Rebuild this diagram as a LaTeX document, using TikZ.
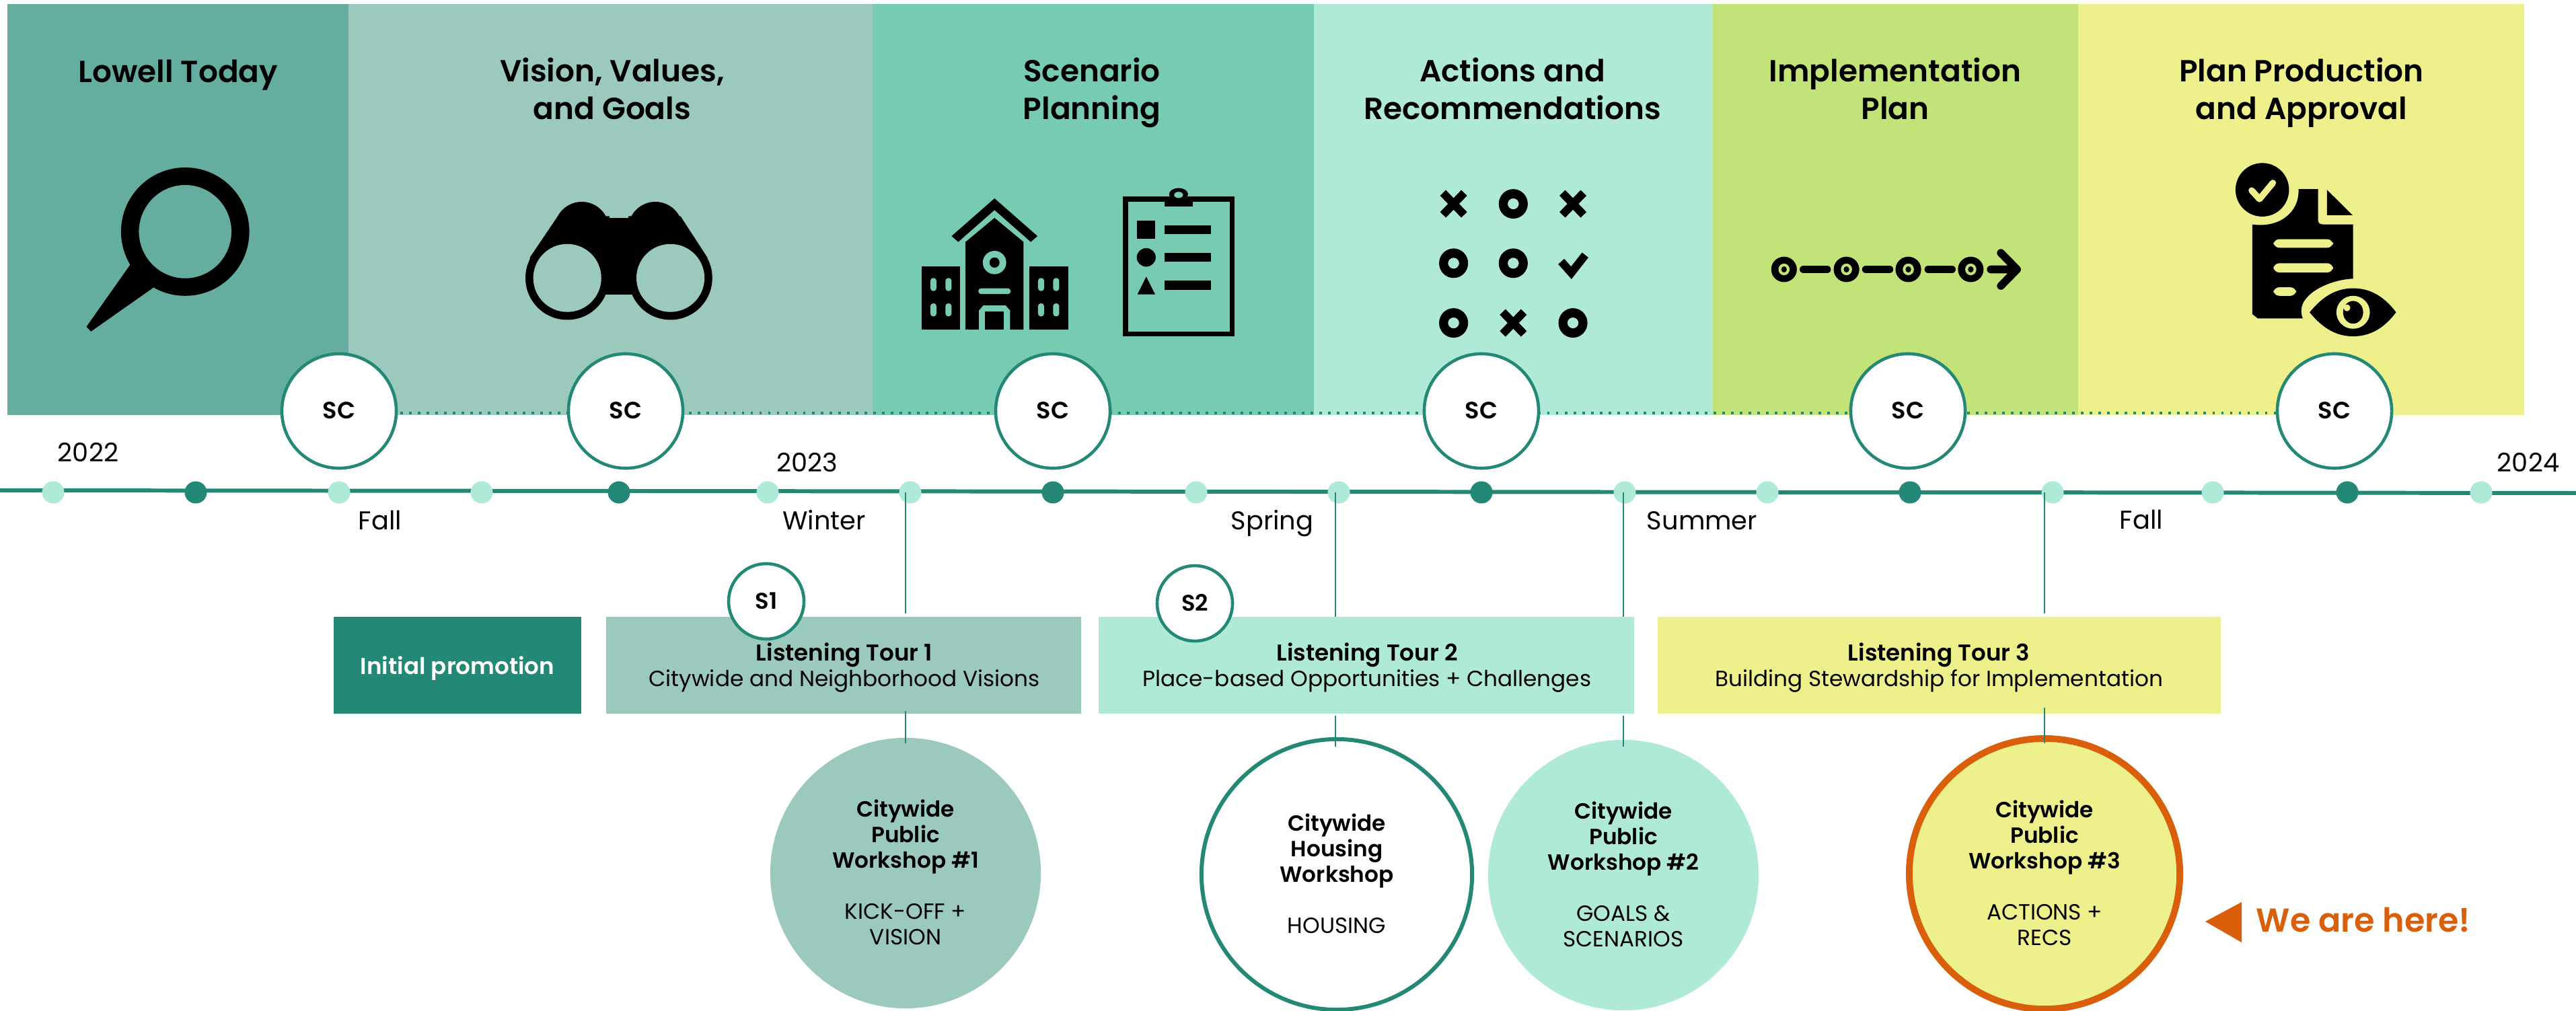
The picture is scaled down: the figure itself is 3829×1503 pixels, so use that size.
\documentclass[tikz,border=0pt]{standalone}
\usepackage{fontspec}
\setmainfont{Poppins}
\newfontfamily\medfont{Poppins Medium}
\newfontfamily\semifont{Poppins SemiBold}
\usetikzlibrary{calc}
\normallineskiplimit=-20pt
\lineskiplimit=-20pt
\definecolor{cLow}{HTML}{65AD9E}
\definecolor{cVis}{HTML}{9CC9BE}
\definecolor{cSce}{HTML}{78CBB3}
\definecolor{cAct}{HTML}{AFE9D8}
\definecolor{cImp}{HTML}{C2E377}
\definecolor{cPla}{HTML}{EEF08B}
\definecolor{cTeal}{HTML}{238875}
\definecolor{cOra}{HTML}{D95F0A}
\tikzset{
  x=0.01cm,y=-0.01cm,
  every node/.append style={execute at begin node={\lineskiplimit=-20pt\relax}},
  paneltitle/.style={font=\fontsize{12.9}{15.7}\selectfont\semifont,align=center,inner sep=0,text=black},
  sccirc/.style={circle,draw=cTeal,line width=1.3pt,fill=white,minimum size=1.7cm,inner sep=0,font=\fontsize{10}{11}\selectfont\semifont},
  scirc/.style={circle,draw=cTeal,line width=1.3pt,fill=white,minimum size=1.12cm,inner sep=0,font=\fontsize{9.6}{11}\selectfont\semifont},
  ldot/.style={circle,fill=cAct,minimum size=0.33cm,inner sep=0},
  ddot/.style={circle,fill=cTeal,minimum size=0.33cm,inner sep=0},
  lab/.style={font=\fontsize{10.9}{12}\selectfont,inner sep=0},
  boxt/.style={align=center,inner sep=0,font=\fontsize{9.3}{10.8}\selectfont},
  wk/.style={circle,minimum size=4.02cm,inner sep=0,align=center,font=\fontsize{9.3}{10.8}\selectfont},
  conn/.style={draw=cTeal,line width=0.55pt},
  zone/.style={xscale=1/1.206,yscale=1/1.96},
}
\newcommand{\bt}[1]{{\semifont #1}}
\newcommand{\bl}[1]{{\fontsize{9.7}{10.8}\selectfont\semifont #1}}
\newcommand{\sq}{\rule[-.3\baselineskip]{0pt}{1.2\baselineskip}}
\begin{document}
\begin{tikzpicture}
\useasboundingbox (0,0) rectangle (3829,1503);
% panels
\fill[cLow] (11,6) rectangle (518,617);
\fill[cVis] (518,6) rectangle (1297,617);
\fill[cSce] (1297,6) rectangle (1953,617);
\fill[cAct] (1953,6) rectangle (2546,617);
\fill[cImp] (2546,6) rectangle (3089,617);
\fill[cPla] (3089,6) rectangle (3752,617);
% titles
\node[paneltitle] (tLow) at (265,106) {\sq Lowell Today};
\node[paneltitle] (tVis) at (910,133) {\sq Vision, Values,\\\sq and Goals};
\node[paneltitle] (tSce) at (1623,133) {\sq Scenario\\\sq Planning};
\node[paneltitle] (tAct) at (2248,133) {\sq Actions and\\\sq Recommendations};
\node[paneltitle] (tImp) at (2817,133) {\sq Implementation\\\sq Plan};
\node[paneltitle] (tPla) at (3421,133) {\sq Plan Production\\\sq and Approval};
% magnifier
\begin{scope}[shift={(0,0)},zone]
\fill[black,even odd rule] (332,675) circle[x radius=115,y radius=187] (332,675) circle[x radius=83,y radius=136];
\fill[black] (234,770) -- (155,952) -- (163,966) -- (275,838) -- (262,815) -- cycle;
% binoculars
\fill[black] (1043,668) circle[x radius=49,y radius=80];
\fill[black] (1175,668) circle[x radius=49,y radius=80];
\fill[black] (1000,630) -- (950,750) -- (950,830) -- (1268,830) -- (1268,750) -- (1220,630) -- cycle;
\fill[black] (1000,636) rectangle (1220,858);
\fill[black] (1017,810) circle[x radius=75,y radius=122];
\fill[black] (1202,810) circle[x radius=75,y radius=122];
\fill[cVis] (1017,810) circle[x radius=61,y radius=99];
\fill[cVis] (1202,810) circle[x radius=61,y radius=99];
\fill[cVis] (1093,590) rectangle (1127,636);
\fill[cVis] (1085,858) -- (1133,858) -- (1133,930) -- (1085,930) -- cycle;
\end{scope}
% school and clipboard and grid
\begin{scope}[shift={(1300,0)},zone]
\fill[black] (215,578) -- (138,688) -- (150,705) -- (215,612) -- (280,705) -- (292,688) -- cycle;
\fill[black] (163,705) -- (215,635) -- (267,705) -- (267,960) -- (163,960) -- cycle;
\fill[cSce] (215,765) circle[x radius=21,y radius=34];
\fill[black] (215,765) circle[x radius=9,y radius=15];
\fill[cSce,rounded corners=1.2pt] (186,840) rectangle (244,857);
\fill[cSce] (187,960) -- (187,905) -- (195,890) -- (235,890) -- (243,905) -- (243,960) -- cycle;
\fill[black] (198,908) rectangle (232,960);
\fill[black] (85,776) rectangle (153,960);
\fill[black] (277,776) rectangle (347,960);
\foreach \wx in {100,127,293,320} \foreach \wy in {810,884} {
  \fill[cSce,rounded corners=1.2pt] (\wx,\wy) rectangle ++(11,38);
}
% clipboard
\fill[black] (445,573) rectangle (645,980);
\fill[cSce] (455,588) rectangle (637,967);
\fill[black] (520,578) rectangle (570,601);
\fill[black] (545,566) circle[x radius=17,y radius=18];
\fill[cSce] (545,568) circle[x radius=8,y radius=9];
\fill[black] (470,642) rectangle (503,696);
\fill[black] (487,750) circle[x radius=17,y radius=27];
\fill[black] (487,806) -- (471,858) -- (503,858) -- cycle;
\fill[black] (520,656) rectangle (603,682);
\fill[black] (520,736) rectangle (603,763);
\fill[black] (520,817) rectangle (603,845);
% grid
\foreach \gx/\gy in {1145/594,1038/767,1145/767,1038/941,1252/941} {
  \fill[black,even odd rule] (\gx,\gy) circle[x radius=26,y radius=43] (\gx,\gy) circle[x radius=10,y radius=16];
}
\foreach \gx/\gy in {1038/594,1252/594,1145/941} {
  \draw[black,line width=3.4pt] (\gx-19,\gy-32) -- (\gx+19,\gy+32) (\gx+19,\gy-32) -- (\gx-19,\gy+32);
}
\draw[black,line width=3.4pt,miter limit=4] (1231,762) -- (1249,795) -- (1274,743);
\end{scope}
% implementation + plan icons
\begin{scope}[shift={(2530,0)},xscale=1/1.207,yscale=1/1.96]
\foreach \cx in {147,259,370,482} {
  \fill[black] (\cx,785) circle[x radius=23,y radius=37];
  \fill[cImp] (\cx,785) circle[x radius=10,y radius=17];
  \fill[black] (\cx,785) circle[x radius=5,y radius=9];
}
\foreach \cx in {177,289,401} {
  \draw[black,line width=3.3pt,line cap=round] (\cx+5,785) -- (\cx+47,785);
}
\draw[black,line width=3.3pt,line cap=round,line join=round] (518,785) -- (563,785) (536,737) -- (565,785) -- (536,833);
% plan icon
\fill[black] (1070,551) -- (1105,551) -- (1105,640) .. controls (1105,650) and (1108,654) .. (1115,654) -- (1168,654) -- (1168,812) .. controls (1125,815) and (1075,855) .. (1075,905) .. controls (1075,915) and (1076,922) .. (1078,928) -- (997,928) -- (987,915) -- (987,654) .. controls (1035,665) and (1072,620) .. (1070,551) -- cycle;
\fill[black] (1121,553) -- (1167,627) -- (1121,627) -- cycle;
\fill[black] (1005,553) circle[x radius=48,y radius=78];
\draw[cPla,line width=2.7pt,line cap=round,line join=round] (986,555) -- (1000,580) -- (1024,533);
\fill[cPla,rounded corners=2.5pt] (1025,697) rectangle (1132,722);
\fill[cPla,rounded corners=2.5pt] (1025,767) rectangle (1132,794);
\fill[cPla,rounded corners=2.5pt] (1025,837) rectangle (1066,862);
\fill[black] (1090,910) .. controls (1115,860) and (1140,840) .. (1168,840) .. controls (1196,840) and (1222,860) .. (1245,910) .. controls (1222,960) and (1196,980) .. (1168,980) .. controls (1140,980) and (1115,960) .. (1090,910) -- cycle;
\fill[cPla] (1168,910) circle[x radius=30,y radius=48];
\fill[black] (1168,910) circle[x radius=18,y radius=33];
\fill[cPla] (1157,897) circle[x radius=6,y radius=10];
\end{scope}
% dotted
\coordinate (dotL) at (504,614);
\coordinate (dotR) at (3470,614);
\draw[cTeal,line width=1pt,dash pattern=on 1.1pt off 2.6pt] (dotL) -- (dotR);
% timeline
\coordinate (tlL) at (0,729);
\coordinate (tlR) at (3829,733);
\draw[cTeal,line width=1.7pt] (tlL) -- (tlR);
\foreach \nm/\dx in {a/79,c/504,d/716,f/1141,g/1353,i/1778,j/1990,l/2415,m/2627,o/3051,p/3289,r/3688}{
  \node[ldot] (dot\nm) at (\dx,732) {};
}
\foreach \nm/\dx in {b/291,e/920,h/1565,k/2202,n/2839,q/3489}{
  \node[ddot] (dot\nm) at (\dx,732) {};
}
% SC
\foreach \nm/\sx in {1/504,2/930,3/1565,4/2202,5/2836,6/3470}{
  \node[sccirc] (sc\nm) at (\sx,611) {\sq SC};
}
% labels
\node[lab] (y22) at (131,674) {\sq 2022};
\node[lab] (y23) at (1200,689) {\sq 2023};
\node[lab] (y24) at (3758,689) {\sq 2024};
\node[lab] (sFa) at (565,775) {\sq Fall};
\node[lab] (sWi) at (1225,775) {\sq Winter};
\node[lab] (sSp) at (1891,775) {\sq Spring};
\node[lab] (sSu) at (2530,775) {\sq Summer};
\node[lab] (sFb) at (3183,774) {\sq Fall};
% boxes
\fill[cTeal] (496,917) rectangle (864,1061);
\fill[cVis] (901,917) rectangle (1607,1061);
\fill[cAct] (1633,917) rectangle (2429,1061);
\fill[cPla] (2464,917) rectangle (3301,1061);
\node[boxt,text=white] (bInit) at (680,991) {\sq\bl{Initial promotion}};
\node[boxt] (bT1) at (1255,990) {\sq\bl{Listening Tour 1}\\\sq Citywide and Neighborhood Visions};
\node[boxt] (bT2) at (2032,990) {\sq\bl{Listening Tour 2}\\\sq Place-based Opportunities + Challenges};
\node[boxt] (bT3) at (2882,990) {\sq\bl{Listening Tour 3}\\\sq Building Stewardship for Implementation};
\node[scirc] (s1) at (1139,894) {\sq S1};
\node[scirc] (s2) at (1776,897) {\sq S2};
% workshops
\node[wk,fill=cVis] (w1) at (1346,1298) {\sq\bt{Citywide}\\\sq\bt{Public}\\\sq\bt{Workshop \#1}\\\sq\\\sq KICK-OFF +\\\sq VISION};
\node[wk,fill=white,draw=cTeal,line width=1.7pt] (wh) at (1987,1300) {\sq\bt{Citywide}\\\sq\bt{Housing}\\\sq\bt{Workshop}\\\sq\\\sq HOUSING};
\node[wk,fill=cAct] (w2) at (2413,1301) {\sq\bt{Citywide}\\\sq\bt{Public}\\\sq\bt{Workshop \#2}\\\sq\\\sq GOALS \&\\\sq SCENARIOS};
\node[wk,fill=cPla,draw=cOra,line width=2.8pt] (w3) at (3039,1299) {\sq\bt{Citywide}\\\sq\bt{Public}\\\sq\bt{Workshop \#3}\\\sq\\\sq ACTIONS +\\\sq RECS};
% connectors
\foreach \nm/\cx/\ya/\yb/\yc/\yd in {A/1346/732/912/1057/1105,B/1985/732/917/1064/1110,C/2413/732/917/1064/1110,D/3039/732/912/1052/1105}{
  \coordinate (c\nm a) at (\cx,\ya);
  \coordinate (c\nm b) at (\cx,\yb);
  \coordinate (c\nm c) at (\cx,\yc);
  \coordinate (c\nm d) at (\cx,\yd);
  \draw[conn] (c\nm a) -- (c\nm b);
  \draw[conn] (c\nm c) -- (c\nm d);
}
% here
\coordinate (hTip) at (3278,1370);
\fill[cOra] (hTip) -- (3332,1341) -- (3332,1401) -- cycle;
\node[inner sep=0,anchor=west,text=cOra,font=\fontsize{14}{16}\selectfont\semifont] (here) at (3353,1369) {\sq We are here!};
\end{tikzpicture}
\end{document}
